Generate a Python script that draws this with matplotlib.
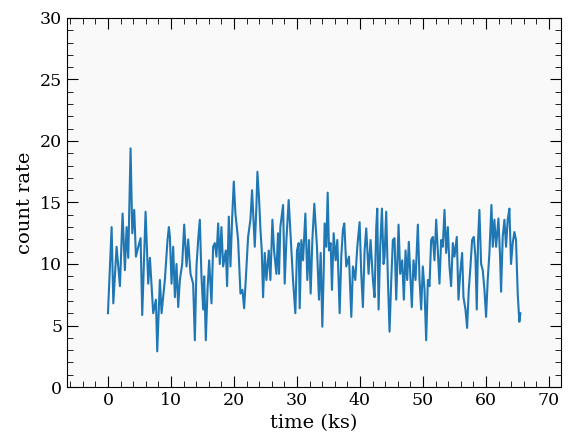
import matplotlib
matplotlib.use("Agg")
import matplotlib.pyplot as plt
from matplotlib.ticker import MultipleLocator

time_ks = [
    0.00, 0.58, 0.85, 1.37, 1.90, 2.32, 2.69, 2.96, 3.22, 3.59, 3.86, 4.17, 4.44, 4.81, 5.18,
    5.44, 5.97, 6.39, 6.66, 7.18, 7.61, 7.82, 8.24, 8.51, 9.03, 9.46, 9.67,
    9.83, 10.09, 10.35, 10.62, 10.88, 11.15, 11.41, 11.78, 12.10, 12.47, 12.73, 13.10, 13.52,
    13.79, 14.05, 14.32, 14.58, 14.84, 15.11, 15.27, 15.53, 15.80, 16.06, 16.43, 16.69, 16.96,
    17.22, 17.49, 17.75, 18.01, 18.28, 18.70, 18.91, 19.18, 19.44, 19.70, 19.97, 20.23, 20.65,
    21.03,
    21.34, 21.61, 21.87, 22.24, 22.61, 22.87, 23.30, 23.56, 23.72, 23.98, 24.20, 24.41, 24.62,
    24.88, 25.15, 25.52, 25.78, 26.10, 26.36, 26.73, 26.99, 27.15, 27.36, 27.79, 28.05, 28.32,
    28.68, 29.11, 29.37, 29.74, 30.00, 30.27, 30.43, 30.69, 30.96, 31.33, 31.64, 31.91, 32.17,
    32.44, 32.75,
    33.17, 33.49, 33.76, 34.02, 34.23, 34.39, 34.65, 34.87, 35.08, 35.34, 35.55, 35.82, 36.13,
    36.40, 36.77, 37.03, 37.29, 37.51, 37.82, 38.25, 38.62, 38.88, 39.25, 39.57, 39.94, 40.20,
    40.46, 40.73, 40.99, 41.36, 41.68, 42.05, 42.31, 42.58, 42.74, 42.95, 43.21, 43.48, 43.74,
    43.90, 44.16, 44.43, 44.69, 44.96, 45.22, 45.48, 45.75, 46.12, 46.38, 46.70, 46.96, 47.23,
    47.49, 47.75, 48.02, 48.23, 48.49, 48.81, 49.18, 49.45, 49.71, 49.97, 50.24, 50.50, 50.77,
    51.03, 51.29, 51.56, 51.82, 52.09, 52.35, 52.61, 52.88, 53.14, 53.41, 53.67, 53.94, 54.20,
    54.46, 54.73,
    54.99, 55.36, 55.63, 55.89, 56.21, 56.42, 56.74, 57.00, 57.26, 57.53, 57.79, 58.06, 58.32,
    58.53, 58.74, 58.95, 59.22, 59.48, 59.75, 60.01, 60.27, 60.54, 60.86, 61.07, 61.33, 61.60,
    61.97, 62.23, 62.39, 62.65, 62.92, 63.18, 63.44, 63.71, 63.97, 64.24, 64.50, 64.76, 65.03,
    65.29, 65.45,
]

count_rate = [
    6.0, 13.0, 6.8, 11.4, 8.2, 14.1, 9.5, 13.0, 10.5, 19.4, 12.5, 14.4, 10.6, 11.4, 12.1,
    5.85, 14.25, 8.4, 10.5, 6.0, 7.1, 2.9, 8.7, 6.0, 8.7, 12.0, 13.0,
    12.2, 8.4, 11.4, 7.3, 10.0, 6.5, 8.7, 10.0, 13.2, 9.8, 12.0, 9.2, 8.4,
    3.8, 9.8, 12.0, 13.6, 9.0, 6.3, 9.0, 3.8, 7.9, 10.3, 6.8, 11.4, 11.7,
    10.6, 13.3, 10.0, 13.0, 9.8, 11.1, 8.2, 13.85, 9.8, 13.6, 16.7, 14.1, 12.0,
    7.6,
    7.9, 6.4, 8.7, 12.2, 13.6, 16.0, 11.4, 14.7, 17.5, 15.3, 12.8, 11.1, 7.3,
    10.9, 8.7, 11.1, 8.7, 13.6, 11.1, 9.2, 12.5, 9.2, 13.0, 14.8, 8.4, 11.95,
    15.2, 11.1, 8.7, 6.0, 11.1, 11.7, 6.4, 11.95, 10.3, 14.1, 8.7, 11.95, 7.6,
    11.95, 14.9,
    11.4, 7.1, 10.9, 4.9, 9.2, 13.3, 11.4, 15.8, 11.1, 11.7, 7.9, 12.5, 10.3,
    11.95, 6.0, 10.6, 12.8, 13.3, 9.8, 10.6, 5.7, 9.8, 8.7, 11.4, 13.4, 9.2,
    6.5, 11.1, 12.9, 9.2, 11.95, 8.7, 7.3, 13.0, 14.5, 6.3, 11.4, 14.5, 10.0,
    10.6, 14.25, 8.7, 4.5, 8.7, 11.95, 12.1, 7.1, 13.2, 9.2, 10.3, 7.1, 11.1,
    8.7, 11.8, 8.7, 6.5, 10.3, 8.7, 13.2, 8.7, 6.3, 9.8, 7.9, 3.8, 8.7,
    8.2, 11.95, 12.2, 10.3, 13.6, 11.1, 8.4, 11.95, 11.4, 14.4, 10.9, 13.0, 9.8,
    8.2, 11.7,
    10.6, 12.2, 7.1, 9.2, 10.9, 7.3, 6.3, 4.8, 7.9, 9.8, 11.95, 12.2, 10.6,
    6.3, 11.95, 14.4, 10.0, 9.5, 7.9, 5.7, 8.7, 10.9, 14.8, 11.4, 13.6, 11.4,
    13.7, 10.6, 7.75, 12.2, 13.6, 11.4, 13.6, 14.5, 10.0, 11.7, 12.6, 11.95, 7.6,
    5.3, 6.0,
]

plt.rcParams['font.family'] = ['DejaVu Serif']

fig = plt.figure(figsize=(5.72, 4.45), dpi=100)
ax = fig.add_axes([67/572, 58/445, 494/572, 369/445])
ax.set_facecolor('#f9f9f9')
ax.plot(time_ks, count_rate, color='#1f77b4', lw=1.5)

ax.set_xlim(-6.5, 71.9)
ax.set_ylim(0, 30)
ax.xaxis.set_major_locator(MultipleLocator(10))
ax.xaxis.set_minor_locator(MultipleLocator(2))
ax.yaxis.set_major_locator(MultipleLocator(5))
ax.yaxis.set_minor_locator(MultipleLocator(1))
ax.tick_params(which='both', direction='in', top=True, right=True, labelsize=12.5)
ax.tick_params(which='major', length=8)
ax.tick_params(which='minor', length=4)
ax.set_xlabel('time (ks)', fontsize=14)
ax.set_ylabel('count rate', fontsize=14)

fig.savefig('out.png', dpi=100)
